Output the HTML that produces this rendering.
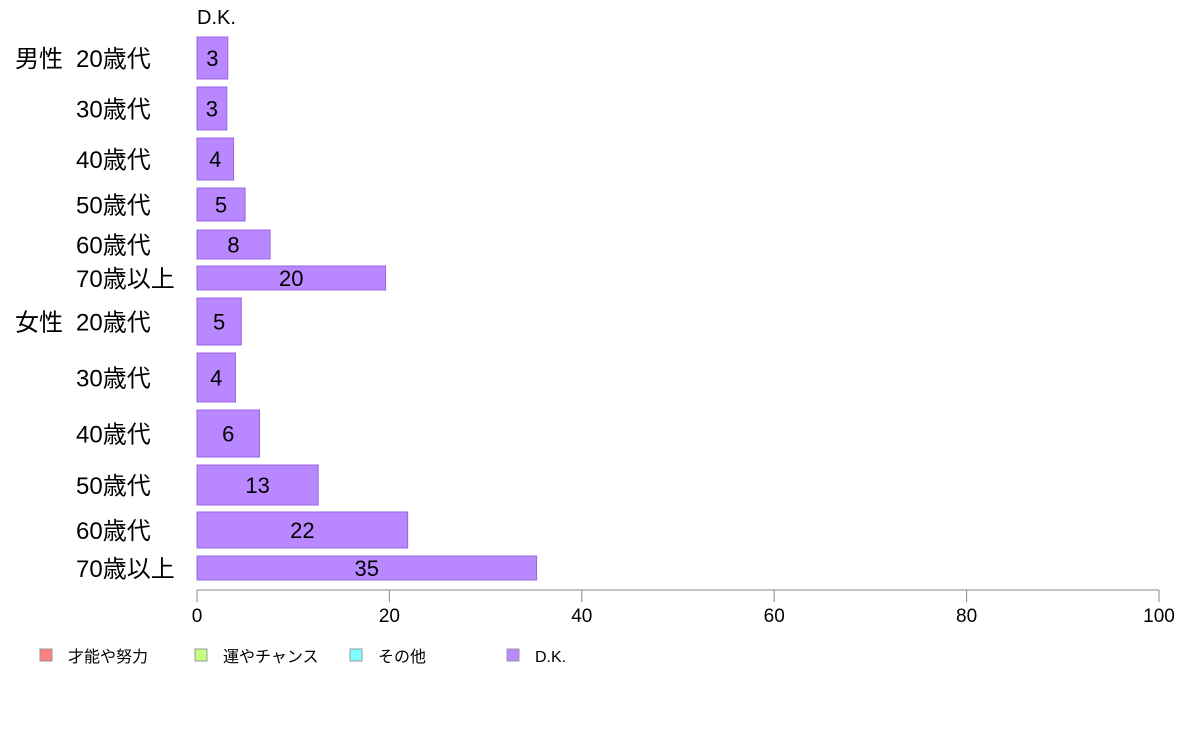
<!DOCTYPE html>
<html><head><meta charset="utf-8"><style>
body{margin:0;background:#fff;}
svg{display:block;font-family:"Liberation Sans","Noto Sans CJK JP",sans-serif;}
</style></head><body>
<svg id="chart" width="1188" height="736"></svg>
<script>
const categories=["20歳代","30歳代","40歳代","50歳代","60歳代","70歳以上","20歳代","30歳代","40歳代","50歳代","60歳代","70歳以上"];
const groups=["男性","","","","","","女性","","","","",""];
const dkValues=[3.2,3.1,3.8,5.0,7.6,19.6,4.6,4.0,6.5,12.6,21.9,35.3];
const dkLabels=["3","3","4","5","8","20","5","4","6","13","22","35"];
const ticks=[0,20,40,60,80,100];
const legendNames=["才能や努力","運やチャンス","その他","D.K."];
const legendColors=["#ff8080","#c8ff80","#80ffff","#b987ff"];
const rowTop=[37,87,138,188,230,266,298,353,410,465,512,556];
const rowBot=[79,130,180,221,259,290,345,402,457,505,548,580];
const svg=document.getElementById('chart');
const NS='http://www.w3.org/2000/svg';
const x=v=>197+v*(1159-197)/100;
function mk(t,a){const e=document.createElementNS(NS,t);for(const k in a)e.setAttribute(k,a[k]);svg.appendChild(e);return e;}
let t=mk('text',{x:197,y:24,'font-size':20,fill:'#000'});t.textContent='D.K.';


categories.forEach((c,i)=>{
 const y0=rowTop[i],y1=rowBot[i],cy=(y0+y1)/2;
 const r=mk('rect',{x:x(0),y:y0,width:x(dkValues[i])-x(0),height:y1-y0,fill:'#b987ff',stroke:'#9a66e0','stroke-width':1});
 
 
 const v=mk('text',{x:(x(0)+x(dkValues[i]))/2,y:cy+8,'font-size':22,'text-anchor':'middle',fill:'#000'});v.textContent=dkLabels[i];
 
 
 const l=mk('text',{x:76,y:cy+9,'font-size':24,fill:'#000'});l.textContent=c;
 
 
 if(groups[i]){const g=mk('text',{x:15,y:cy+9,'font-size':24,fill:'#000'});g.textContent=groups[i];
 
 }
});
const ax=mk('line',{x1:x(0),x2:x(100),y1:590,y2:590,stroke:'#888','stroke-width':1});


ticks.forEach(v=>{
 const tl=mk('line',{x1:x(v),x2:x(v),y1:590,y2:602,stroke:'#888'});
 
 
 const tt=mk('text',{x:x(v),y:622,'font-size':19,'text-anchor':'middle',fill:'#000'});tt.textContent=v;
 
 
});
const lx=[40,195,350,507];
legendNames.forEach((n,i)=>{
 const s=mk('rect',{x:lx[i],y:649,width:12,height:12,fill:legendColors[i],stroke:'#999'});
 
 
 const lt=mk('text',{x:lx[i]+28,y:662,'font-size':16,fill:'#000'});lt.textContent=n;
 
 
});
</script>
</body></html>
